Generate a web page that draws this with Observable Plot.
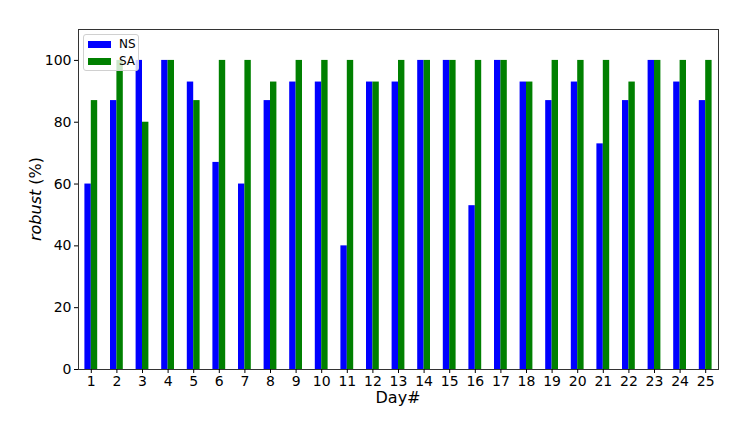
<!DOCTYPE html>
<html>
<head>
<meta charset="utf-8">
<script src="https://cdn.jsdelivr.net/npm/d3@7"></script>
<script src="https://cdn.jsdelivr.net/npm/@observablehq/plot@0.6"></script>
<style>
  html, body { margin: 0; padding: 0; background: #fff; }
  #wrap { position: relative; width: 748px; height: 434px; font-family: "DejaVu Sans", sans-serif; }
  .legend { position: absolute; left: 83px; top: 34px; width: 56px; height: 37px;
    background: rgba(255,255,255,0.8); border: 1px solid #d0d0d0; border-radius: 3px; box-sizing: border-box; }
  .legend .row { position: absolute; left: 4px; display: flex; align-items: center; font-size: 12px; color: #000; }
  .legend .sw { width: 23px; height: 7px; margin-right: 8px; }
</style>
</head>
<body>
<div id="wrap"></div>
<script>
const days = [1,2,3,4,5,6,7,8,9,10,11,12,13,14,15,16,17,18,19,20,21,22,23,24,25];
const seriesNames = ["NS", "SA"];
const seriesColors = ["#0000ff", "#008000"];
const nsValues = [60,87,100,100,93,67,60,87,93,93,40,93,93,100,100,53,100,93,87,93,73,87,100,93,87];
const saValues = [87,100,80,100,87,100,100,93,100,100,100,93,100,100,100,100,100,93,100,100,100,93,100,100,100];
const yTicks = [0,20,40,60,80,100];

const ns = days.map((d, i) => ({day: d, series: "NS", value: nsValues[i]}));
const sa = days.map((d, i) => ({day: d, series: "SA", value: saValues[i]}));

const W = 748, H = 434;
const mL = 78, mR = 30, mT = 29, mB = 65;
const band = (W - mL - mR) / days.length;  // px per day
const barW = band / 4;

const chart = Plot.plot({
  width: W, height: H,
  marginLeft: mL, marginRight: mR, marginTop: mT, marginBottom: mB,
  style: {fontFamily: "DejaVu Sans, sans-serif", fontSize: "14px", color: "#000", background: "#fff"},
  x: {type: "band", domain: days, padding: 0, round: false, label: null},
  y: {domain: [0, 110], label: null},
  color: {domain: seriesNames, range: seriesColors},
  marks: [
    Plot.barY(ns, {x: "day", y: "value", fill: "series", insetLeft: barW, insetRight: 2 * barW}),
    Plot.barY(sa, {x: "day", y: "value", fill: "series", insetLeft: 2 * barW, insetRight: barW}),
    Plot.frame({stroke: "#333", strokeWidth: 1}),
    Plot.axisY({ticks: yTicks, tickSize: 4, tickPadding: 3, fontSize: 14, label: null}),
    Plot.axisX({tickSize: 4, tickPadding: 3, fontSize: 14, label: null})
  ]
});

// axis titles
const svg = d3.select(chart);
svg.append("text")
  .attr("x", (mL + W - mR) / 2).attr("y", 403)
  .attr("text-anchor", "middle").attr("font-size", 16).attr("fill", "#000")
  .text("Day#");
const yl = svg.append("text")
  .attr("transform", `translate(41,${(mT + H - mB) / 2}) rotate(-90)`)
  .attr("text-anchor", "middle").attr("font-size", 16).attr("fill", "#000");
yl.append("tspan").attr("font-style", "italic").text("robust");
yl.append("tspan").text(" (%)");

const wrap = document.getElementById("wrap");
wrap.appendChild(chart);

const leg = document.createElement("div");
leg.className = "legend";
seriesNames.forEach((s, i) => {
  const row = document.createElement("div");
  row.className = "row";
  row.style.top = (2 + i * 17) + "px";
  const sw = document.createElement("div");
  sw.className = "sw";
  sw.style.background = seriesColors[i];
  const t = document.createElement("span");
  t.textContent = s;
  row.appendChild(sw); row.appendChild(t);
  leg.appendChild(row);
});
wrap.appendChild(leg);
</script>
</body>
</html>
